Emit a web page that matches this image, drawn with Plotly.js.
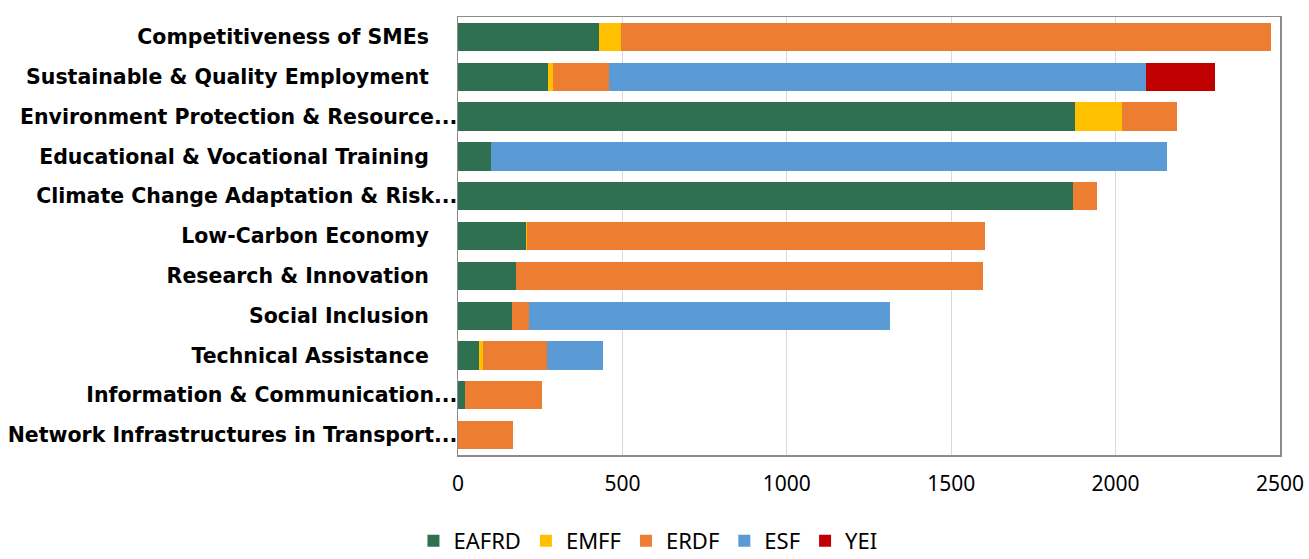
<!DOCTYPE html>
<html>
<head>
<meta charset="utf-8">
<script src="https://cdn.plot.ly/plotly-3.0.1.min.js"></script>
<style>
  html, body { margin: 0; padding: 0; background: #ffffff; }
  #chart { width: 1309px; height: 559px; }
</style>
</head>
<body>
<div id="chart"></div>
<script>
// Thematic objectives, top to bottom
const categories = [
  "Competitiveness of SMEs",
  "Sustainable & Quality Employment",
  "Environment Protection & Resource...",
  "Educational & Vocational Training",
  "Climate Change Adaptation & Risk...",
  "Low-Carbon Economy",
  "Research & Innovation",
  "Social Inclusion",
  "Technical Assistance",
  "Information & Communication...",
  "Network Infrastructures in Transport..."
];

// Amounts per fund, in category order
const eafrd = [428, 274, 1875, 100, 1870, 206, 176, 164, 64, 22, 0];
const emff  = [67, 16, 144, 0, 0, 5, 0, 0, 13, 0, 0];
const erdf  = [1977, 169, 168, 0, 72, 1393, 1422, 51, 195, 234, 166];
const esf   = [0, 1632, 0, 2055, 0, 0, 0, 1099, 169, 0, 0];
const yei   = [0, 210, 0, 0, 0, 0, 0, 0, 0, 0, 0];

const xTicks = [0, 500, 1000, 1500, 2000, 2500];

const funds = [
  { name: "EAFRD", values: eafrd, color: "#2E704F" },
  { name: "EMFF",  values: emff,  color: "#FFC000" },
  { name: "ERDF",  values: erdf,  color: "#ED7D31" },
  { name: "ESF",   values: esf,   color: "#5B9BD5" },
  { name: "YEI",   values: yei,   color: "#C00000" }
];

const traces = funds.map(f => ({
  type: "bar",
  orientation: "h",
  name: f.name,
  x: f.values,
  y: categories,
  marker: { color: f.color, line: { width: 0 } },
  hoverinfo: "x+y+name"
}));

// Labels that fit are padded so they sit a little off the axis;
// the shortened ones run right up to it.
const pad = "\u00a0\u00a0\u00a0\u00a0";
const tickText = categories.map(c => c.endsWith("...") ? c : c + pad);

const layout = {
  width: 1309,
  height: 559,
  barmode: "stack",
  bargap: 0.29,
  paper_bgcolor: "#ffffff",
  plot_bgcolor: "#ffffff",
  font: { family: "'Noto Sans', 'Open Sans', sans-serif", color: "#000000" },
  margin: { l: 458, r: 29, t: 17, b: 104, pad: 0 },
  xaxis: {
    range: [0, 2500],
    tickvals: xTicks,
    ticktext: xTicks.map(String),
    showgrid: true,
    gridcolor: "#D9D9D9",
    gridwidth: 1,
    zeroline: false,
    showline: true,
    linecolor: "#8C8C8C",
    linewidth: 1.5,
    mirror: true,
    ticks: "",
    ticklabelstandoff: 9,
    tickfont: { size: 21, color: "#000000" }
  },
  yaxis: {
    type: "category",
    autorange: "reversed",
    tickvals: categories,
    ticktext: tickText,
    showgrid: false,
    zeroline: false,
    showline: true,
    linecolor: "#8C8C8C",
    linewidth: 1.5,
    mirror: true,
    ticks: "",
    ticklabelstandoff: -5,
    tickfont: { family: "'DejaVu Sans', sans-serif", size: 20.5, color: "#000000", weight: "bold" }
  },
  showlegend: true,
  legend: {
    orientation: "h",
    x: 0.495,
    xref: "container",
    xanchor: "center",
    yref: "container",
    y: 0.07,
    yanchor: "top",
    font: { size: 22, color: "#000000" },
    traceorder: "normal",
    itemclick: false
  }
};

Plotly.newPlot("chart", traces, layout, { displayModeBar: false, staticPlot: true });
</script>
</body>
</html>
